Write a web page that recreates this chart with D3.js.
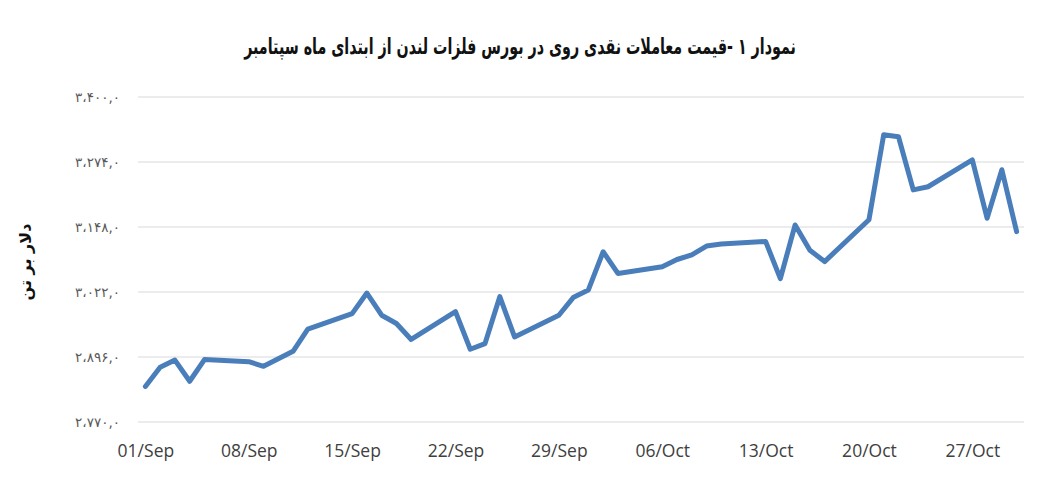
<!DOCTYPE html>
<html>
<head>
<meta charset="utf-8">
<script src="https://cdn.jsdelivr.net/npm/d3@7"></script>
<style>
  html, body { margin: 0; padding: 0; background: #ffffff; }
  svg { display: block; }
</style>
</head>
<body>
<svg id="chart" width="1046" height="484"></svg>
<script>
// ---- data ----
const dates = [
  "2014-09-01","2014-09-02","2014-09-03","2014-09-04","2014-09-05",
  "2014-09-08","2014-09-09","2014-09-11","2014-09-12",
  "2014-09-15","2014-09-16","2014-09-17","2014-09-18","2014-09-19",
  "2014-09-22","2014-09-23","2014-09-24","2014-09-25","2014-09-26",
  "2014-09-29","2014-09-30","2014-10-01","2014-10-02","2014-10-03",
  "2014-10-06","2014-10-07","2014-10-08","2014-10-09","2014-10-10",
  "2014-10-13","2014-10-14","2014-10-15","2014-10-16","2014-10-17",
  "2014-10-20","2014-10-21","2014-10-22","2014-10-23","2014-10-24",
  "2014-10-27","2014-10-28","2014-10-29","2014-10-30"
];
const prices = [
  2839, 2876, 2890, 2849, 2891,
  2887, 2878, 2907, 2950,
  2980, 3020, 2977, 2961, 2930,
  2984, 2911, 2922, 3013, 2935,
  2977, 3012, 3026, 3100, 3058,
  3071, 3085, 3094, 3111, 3115,
  3120, 3048, 3152, 3103, 3081,
  3162, 3327, 3323, 3220, 3226,
  3278, 3165, 3259, 3139
];
const yTicks = [2770, 2896, 3022, 3148, 3274, 3400];
const xTickDates = ["2014-09-01","2014-09-08","2014-09-15","2014-09-22","2014-09-29","2014-10-06","2014-10-13","2014-10-20","2014-10-27"];
const titleText = "نمودار ۱ -قیمت معاملات نقدی روی در بورس فلزات لندن از ابتدای ماه سپتامبر";
const yLabel = "دلار بر تن";

// ---- setup ----
const parse = d3.utcParse("%Y-%m-%d");
const data = dates.map((d, i) => ({ date: parse(d), value: prices[i] }));
const svg = d3.select("#chart");
const plot = { left: 138, right: 1024, top: 97, bottom: 422 };

const halfDay = 12 * 3600 * 1000;
const x = d3.scaleUtc()
  .domain([new Date(parse(dates[0]).getTime() - halfDay), new Date(parse(dates[dates.length - 1]).getTime() + halfDay)])
  .range([plot.left, plot.right]);
const y = d3.scaleLinear().domain([2770, 3400]).range([plot.bottom, plot.top]);

const persianDigits = "۰۱۲۳۴۵۶۷۸۹";
function fmtFa(v) {
  const s = d3.format(",.1f")(v);            // e.g. 2,896.0
  const [intPart, dec] = s.split(".");
  const conv = t => t.replace(/[0-9]/g, c => persianDigits[+c]);
  return conv(intPart).replace(/,/g, "،") + "," + conv(dec);
}

// gridlines
svg.append("g")
  .selectAll("line")
  .data(yTicks)
  .join("line")
  .attr("x1", plot.left).attr("x2", plot.right)
  .attr("y1", d => y(d)).attr("y2", d => y(d))
  .attr("stroke", "#d9d9d9").attr("stroke-width", 1.2);

// y axis labels
const yAxis = d3.axisLeft(y).tickValues(yTicks).tickSize(0).tickPadding(18).tickFormat(fmtFa);
svg.append("g")
  .attr("transform", `translate(${plot.left},0)`)
  .call(yAxis)
  .call(g => g.select(".domain").remove())
  .call(g => g.selectAll("text")
    .attr("font-family", "DejaVu Sans")
    .attr("font-size", 13.5)
    .attr("fill", "#595959")
    .attr("direction", "ltr"));

// x axis labels
const xAxis = d3.axisBottom(x).tickValues(xTickDates.map(parse)).tickSize(0).tickPadding(0)
  .tickFormat(d3.utcFormat("%d/%b"));
svg.append("g")
  .attr("transform", `translate(0,${plot.bottom})`)
  .call(xAxis)
  .call(g => g.select(".domain").remove())
  .call(g => g.selectAll("text")
    .attr("font-family", "Open Sans")
    .attr("font-size", 17.5)
    .attr("fill", "#404040")
    .attr("dy", null)
    .attr("y", 35));

// line
const line = d3.line().x(d => x(d.date)).y(d => y(d.value));
svg.append("path")
  .datum(data)
  .attr("d", line)
  .attr("fill", "none")
  .attr("stroke", "#4a7ebb")
  .attr("stroke-width", 5)
  .attr("stroke-linejoin", "round")
  .attr("stroke-linecap", "round");

// title (condensed to match the reference's narrow bold face)
const titleG = svg.append("g");
const title = titleG.append("text")
  .attr("x", 0).attr("y", 0)
  .attr("text-anchor", "middle")
  .attr("direction", "rtl")
  .attr("font-family", "DejaVu Sans")
  .attr("font-weight", "bold")
  .attr("font-size", 22)
  .attr("fill", "#111")
  .text(titleText);
const tw = title.node().getComputedTextLength();
const targetW = 552;
titleG.attr("transform", `translate(520,54) scale(${targetW / tw},1)`);

// y label
svg.append("text")
  .attr("transform", "translate(31,262) rotate(-90)")
  .attr("text-anchor", "middle")
  .attr("direction", "rtl")
  .attr("font-family", "DejaVu Sans")
  .attr("font-weight", "bold")
  .attr("font-size", 16)
  .attr("fill", "#111")
  .text(yLabel);
</script>
</body>
</html>
